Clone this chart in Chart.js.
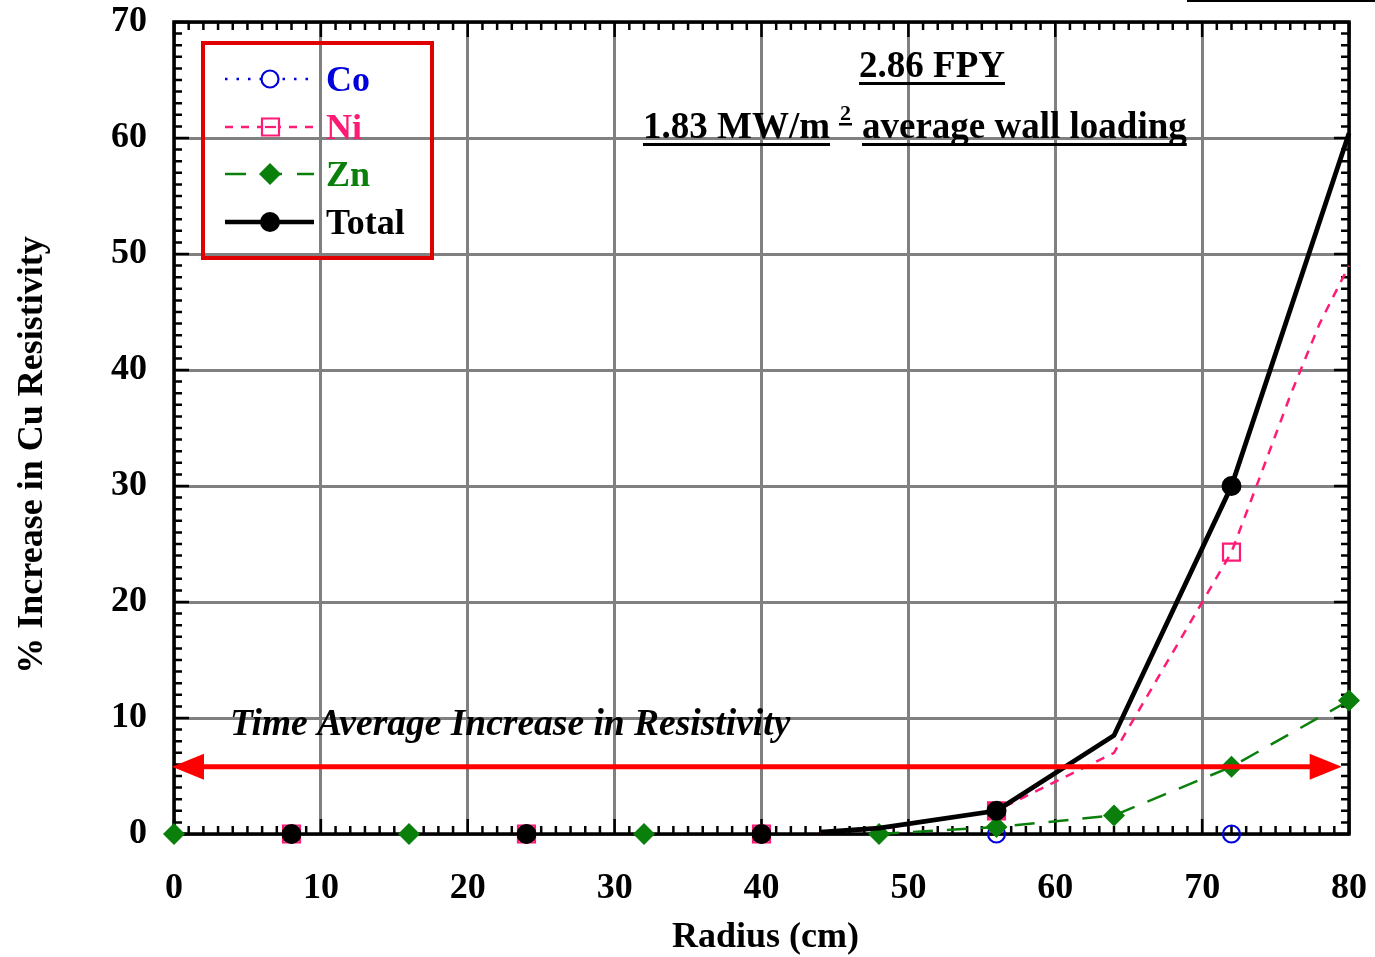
<!DOCTYPE html>
<html>
<head>
<meta charset="utf-8">
<script src="https://cdn.jsdelivr.net/npm/chart.js@4.4.0/dist/chart.umd.min.js"></script>
<style>
html,body{margin:0;padding:0;background:#fff}
canvas{display:block}
</style>
</head>
<body>
<canvas id="chart" width="1375" height="957"></canvas>
<script>
// radius (cm) where the Co / Ni / Total symbols sit
var markX=[8,24,40,56,72];
var coVals=[0,0,0,0,0];
var niVals=[0,0,0,2,24.3];
var totVals=[0,0,0,2,30];
// Zn symbols
var znX=[0,16,32,48,56,64,72,80];
var znVals=[0,0,0,0,0.6,1.6,5.8,11.5];
// curves
var niLineX=[44,48,56,64,72,74,76,78,80];
var niLineY=[0.1,0.4,2,7,24.3,31,37.8,44,49];
var znLineX=[48,56,64,72,80];
var znLineY=[0,0.6,1.6,5.8,11.5];
var totLineX=[44,48,56,64,72,80];
var totLineY=[0.15,0.5,2,8.5,30,60.4];
// time average increase (red arrow)
var avgIncrease=5.8;
var arrowEnds=[0,79.5];

var BLUE='#0000dd', PINK='#ff1a75', GREEN='#0b7f0b', BLACK='#000000', RED='#ff0000';
var FONT='"Liberation Serif", "Times New Roman", serif';

function pts(xs,ys){
  var out=[];
  for(var i=0;i<xs.length;i++) out.push({x:xs[i],y:ys[i]});
  return out;
}
function noPad(s){
  s.paddingTop=0; s.paddingBottom=0; s.paddingLeft=0; s.paddingRight=0;
}

var framePlugin={
  id:'frame',
  beforeDatasetsDraw:function(chart){
    var ctx=chart.ctx, a=chart.chartArea, xs=chart.scales.x, ys=chart.scales.y;
    ctx.save();
    ctx.strokeStyle=BLACK;
    ctx.lineWidth=2.5;
    ctx.beginPath();
    for(var v=xs.min;v<=xs.max;v++){
      var px=xs.getPixelForValue(v), len=(v%10==0)?15:8;
      ctx.moveTo(px,a.bottom); ctx.lineTo(px,a.bottom-len);
      ctx.moveTo(px,a.top); ctx.lineTo(px,a.top+len);
    }
    for(v=ys.min;v<=ys.max;v++){
      var py=ys.getPixelForValue(v), l2=(v%10==0)?15:8;
      ctx.moveTo(a.left,py); ctx.lineTo(a.left+l2,py);
      ctx.moveTo(a.right,py); ctx.lineTo(a.right-l2,py);
    }
    ctx.stroke();
    ctx.lineWidth=3.5;
    ctx.strokeRect(a.left,a.top,a.right-a.left,a.bottom-a.top);
    ctx.restore();
  }
};

function underlined(ctx,text,x,y){
  ctx.fillText(text,x,y);
  var w=ctx.measureText(text).width;
  ctx.fillRect(x,y+5,w,3);
  return w;
}

var decoPlugin={
  id:'deco',
  afterDatasetsDraw:function(chart){
    var ctx=chart.ctx, xs=chart.scales.x, ys=chart.scales.y;
    var y=ys.getPixelForValue(avgIncrease);
    var x0=xs.getPixelForValue(arrowEnds[0]), x1=xs.getPixelForValue(arrowEnds[1]);
    ctx.save();
    ctx.strokeStyle=RED; ctx.fillStyle=RED; ctx.lineWidth=5;
    ctx.beginPath(); ctx.moveTo(x0+20,y); ctx.lineTo(x1-20,y); ctx.stroke();
    ctx.beginPath(); ctx.moveTo(x0-2,y); ctx.lineTo(x0+30,y-13); ctx.lineTo(x0+30,y+13); ctx.closePath(); ctx.fill();
    ctx.beginPath(); ctx.moveTo(x1,y); ctx.lineTo(x1-32,y-13); ctx.lineTo(x1-32,y+13); ctx.closePath(); ctx.fill();
    ctx.restore();
  },
  afterDraw:function(chart){
    var ctx=chart.ctx, a=chart.chartArea;
    ctx.save();
    ctx.fillStyle=BLACK;
    ctx.textBaseline='alphabetic';
    // axis titles
    ctx.font='bold 36px '+FONT;
    ctx.textAlign='center';
    ctx.fillText('Radius (cm)',(a.left+a.right)/2+4,947);
    ctx.save();
    ctx.translate(42,455);
    ctx.rotate(-Math.PI/2);
    ctx.fillText('% Increase in Cu Resistivity',0,0);
    ctx.restore();
    // header notes
    ctx.textAlign='left';
    ctx.font='bold 37px '+FONT;
    var w=ctx.measureText('2.86 FPY').width;
    underlined(ctx,'2.86 FPY',932-w/2,77);
    underlined(ctx,'1.83 MW/m',643,138);
    underlined(ctx,'average wall loading',862,138);
    ctx.font='bold 22px '+FONT;
    ctx.fillText('2',840,120);
    ctx.fillRect(839,123,13,2.5);
    // time average label
    ctx.font='italic bold 37.5px '+FONT;
    ctx.fillText('Time Average Increase in Resistivity',230,735);
    // stray line at top right
    ctx.fillRect(1187,0,188,2);

    // legend
    ctx.strokeStyle='#e00000';
    ctx.lineWidth=4;
    ctx.strokeRect(203,43,229,215);
    var rows=[
      {t:'Co',c:BLUE,dash:[2.5,9],lw:2.5,m:'circle',y:79},
      {t:'Ni',c:PINK,dash:[8,8],lw:2.5,m:'rect',y:127},
      {t:'Zn',c:GREEN,dash:[21,15],lw:2.5,m:'diamond',y:174},
      {t:'Total',c:BLACK,dash:[],lw:4.5,m:'dot',y:222}
    ];
    for(var i=0;i<rows.length;i++){
      var r=rows[i];
      ctx.strokeStyle=r.c; ctx.fillStyle=r.c;
      ctx.lineWidth=r.lw; ctx.setLineDash(r.dash);
      ctx.beginPath(); ctx.moveTo(225,r.y); ctx.lineTo(314,r.y); ctx.stroke();
      ctx.setLineDash([]);
      ctx.lineWidth=2.2;
      ctx.beginPath();
      if(r.m=='circle'){
        ctx.fillStyle='#fff'; ctx.arc(270,r.y,8.5,0,Math.PI*2); ctx.fill(); ctx.stroke();
      } else if(r.m=='rect'){
        ctx.fillStyle='#fff'; ctx.rect(262,r.y-8.5,17,17); ctx.fill(); ctx.stroke();
        ctx.beginPath(); ctx.moveTo(265,r.y); ctx.lineTo(276,r.y); ctx.stroke();
      } else if(r.m=='diamond'){
        ctx.moveTo(270,r.y-11); ctx.lineTo(281,r.y); ctx.lineTo(270,r.y+11); ctx.lineTo(259,r.y); ctx.closePath(); ctx.fill();
      } else {
        ctx.arc(270,r.y,10,0,Math.PI*2); ctx.fill();
      }
      ctx.fillStyle=r.c;
      ctx.font='bold 36px '+FONT;
      ctx.fillText(r.t,326,r.y+12);
    }
    ctx.restore();
  }
};

var chart=new Chart(document.getElementById('chart'),{
  type:'scatter',
  data:{
    datasets:[
      {label:'Total',data:pts(markX,totVals),showLine:false,pointStyle:'circle',pointRadius:10,
       backgroundColor:BLACK,borderColor:BLACK,pointBorderWidth:0,order:1},
      {label:'Total line',data:pts(totLineX,totLineY),showLine:true,borderColor:BLACK,borderWidth:4.8,
       pointRadius:0,order:2},
      {label:'Zn',data:pts(znX,znVals),showLine:false,pointStyle:'rectRot',pointRadius:11,
       backgroundColor:GREEN,borderColor:GREEN,pointBorderWidth:0,order:3},
      {label:'Zn line',data:pts(znLineX,znLineY),showLine:true,borderColor:GREEN,borderWidth:2.5,
       borderDash:[20,14],pointRadius:0,order:4},
      {label:'Ni',data:pts(markX,niVals),showLine:false,pointStyle:'rect',pointRadius:12,
       backgroundColor:'rgba(0,0,0,0)',borderColor:PINK,pointBorderWidth:2.2,order:5},
      {label:'Ni line',data:pts(niLineX,niLineY),showLine:true,borderColor:PINK,borderWidth:2.5,
       borderDash:[9,8],pointRadius:0,order:6},
      {label:'Co',data:pts(markX,coVals),showLine:false,pointStyle:'circle',pointRadius:8.5,
       backgroundColor:'rgba(0,0,0,0)',borderColor:BLUE,pointBorderWidth:2.2,order:7}
    ]
  },
  options:{
    responsive:false,
    animation:false,
    devicePixelRatio:1,
    events:[],
    clip:false,
    layout:{padding:{left:0,top:22,right:26,bottom:0}},
    plugins:{legend:{display:false},tooltip:{enabled:false}},
    scales:{
      x:{
        type:'linear',min:0,max:80,
        afterFit:function(s){s.height=123; noPad(s);},
        ticks:{stepSize:10,padding:33,color:BLACK,font:{family:FONT,size:36,weight:'bold'}},
        grid:{color:'#808080',lineWidth:3,drawTicks:false},
        border:{display:false}
      },
      y:{
        type:'linear',min:0,max:70,
        afterFit:function(s){s.width=174; noPad(s);},
        ticks:{stepSize:10,padding:27,color:BLACK,font:{family:FONT,size:36,weight:'bold'}},
        grid:{color:'#808080',lineWidth:3,drawTicks:false},
        border:{display:false}
      }
    }
  },
  plugins:[framePlugin,decoPlugin]
});
</script>
</body>
</html>
